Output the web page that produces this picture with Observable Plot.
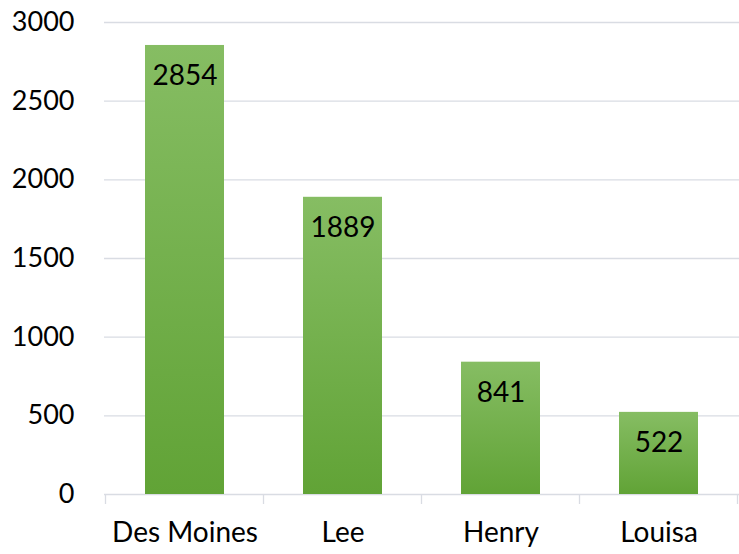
<!DOCTYPE html>
<html>
<head>
<meta charset="utf-8">
<script src="https://cdn.jsdelivr.net/npm/d3@7"></script>
<script src="https://cdn.jsdelivr.net/npm/@observablehq/plot@0.6"></script>
<style>
  html, body { margin: 0; padding: 0; background: #fff; }
  svg { display: block; }
</style>
</head>
<body>
<div id="chart"></div>
<script>
const categories = ["Des Moines", "Lee", "Henry", "Louisa"];
const values = [2854, 1889, 841, 522];
const yTicks = [0, 500, 1000, 1500, 2000, 2500, 3000];

const data = categories.map((c, i) => ({county: c, value: values[i]}));

const gradientDefs = () => {
  const svg = d3.create("svg:g");
  const defs = svg.append("defs");
  const g = defs.append("linearGradient").attr("id", "barGrad")
    .attr("x1", 0).attr("y1", 0).attr("x2", 0).attr("y2", 1);
  g.append("stop").attr("offset", "0%").attr("stop-color", "#86bd63");
  g.append("stop").attr("offset", "100%").attr("stop-color", "#61a336");
  return svg.node();
};

const boundaryTicks = (index, scales, values, dims) => {
  const x = scales.x;
  const step = x(categories[1]) - x(categories[0]);
  const y0 = scales.y(0);
  const g = d3.create("svg:g");
  const bounds = categories.map(c => x(c) - step * 0.25);
  bounds.push(x(categories[categories.length - 1]) + step * 0.75);
  g.selectAll("line").data(bounds).join("line")
    .attr("x1", d => d).attr("x2", d => d)
    .attr("y1", y0).attr("y2", y0 + 10)
    .attr("stroke", "#d9dce3").attr("stroke-width", 1.3);
  return g.node();
};

const chart = Plot.plot({
  width: 739,
  height: 554,
  marginTop: 22,
  marginBottom: 60,
  marginLeft: 104,
  marginRight: 0,
  style: {fontFamily: "Lato, sans-serif", fontSize: "27px", color: "#000", background: "#fff"},
  x: {domain: categories, paddingInner: 0.5, paddingOuter: 0.25, label: null},
  y: {domain: [0, 3000], ticks: yTicks, label: null},
  marks: [
    gradientDefs,
    Plot.gridY(yTicks, {stroke: "#d9dce3", strokeOpacity: 1, strokeWidth: 1.3}),
    boundaryTicks,
    Plot.barY(data, {x: "county", y: "value", fill: "url(#barGrad)"}),
    Plot.text(data, {x: "county", y: "value", text: d => String(d.value), dy: 31, fontSize: 28, fill: "#000"}),
    Plot.axisY(yTicks, {tickSize: 0, tickPadding: 30, fontSize: 27, tickFormat: d => String(d)}),
    Plot.axisX({tickSize: 0, tickPadding: 28, fontSize: 28})
  ]
});
document.getElementById("chart").appendChild(chart);
</script>
</body>
</html>
